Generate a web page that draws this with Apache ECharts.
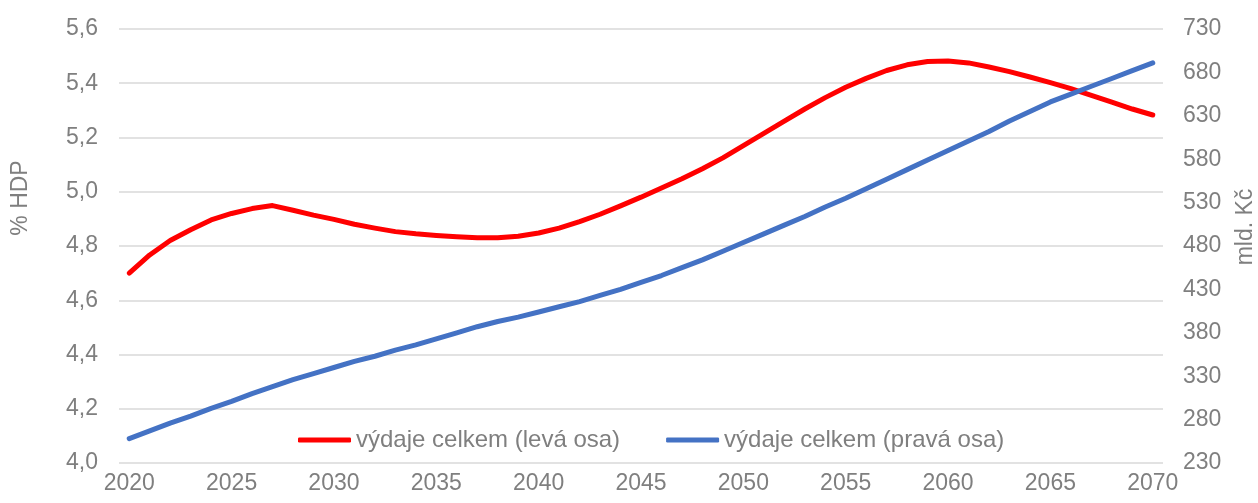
<!DOCTYPE html>
<html>
<head>
<meta charset="utf-8">
<script src="https://cdn.jsdelivr.net/npm/echarts@6/dist/echarts.min.js"></script>
<style>
html,body{margin:0;padding:0;background:#fff;}
#chart{width:1258px;height:503px;}
</style>
</head>
<body>
<div id="chart"></div>
<script>
const years = [];
for (let y = 2020; y <= 2070; y++) years.push(String(y));

const seriesNames = ['výdaje celkem (levá osa)', 'výdaje celkem (pravá osa)'];

// % HDP (left axis)
const leftValues = [
  4.70, 4.767, 4.82, 4.86, 4.896, 4.92, 4.938, 4.949, 4.932, 4.914,
  4.898, 4.88, 4.866, 4.853, 4.845, 4.839, 4.834, 4.830, 4.830, 4.836,
  4.848, 4.866, 4.89, 4.917, 4.948, 4.98, 5.014, 5.048, 5.085, 5.125,
  5.17, 5.215, 5.26, 5.305, 5.347, 5.385, 5.418, 5.447, 5.468, 5.48,
  5.482, 5.475, 5.46, 5.443, 5.423, 5.402, 5.38, 5.355, 5.33, 5.305, 5.283
];

// mld. Kč (right axis)
const rightValues = [
  258, 267, 276, 284, 293, 301, 310, 318, 326, 333,
  340, 347, 353, 360, 366, 373, 380, 387, 393, 398,
  404, 410, 416, 423, 430, 438, 446, 455, 464, 474,
  484, 494, 504, 514, 525, 535, 546, 557, 568, 579,
  590, 601, 612, 624, 635, 646, 655, 664, 673, 682, 691
];

const leftAxisName = '% HDP';
const rightAxisName = 'mld. Kč';

const FONT = 'Liberation Sans, Arial, sans-serif';
const TXT = '#7f7f7f';
const GRID = '#d9d9d9';

const chart = echarts.init(document.getElementById('chart'), null, {renderer: 'canvas'});
chart.setOption({
  animation: false,
  backgroundColor: '#fff',
  textStyle: {fontFamily: FONT},
  grid: {left: 119, right: 95, top: 29, bottom: 40, containLabel: false},
  legend: {
    data: seriesNames,
    left: 293,
    top: 423,
    icon: 'roundRect',
    itemWidth: 53,
    itemHeight: 5,
    itemGap: 46,
    textStyle: {fontSize: 24, color: TXT, fontFamily: FONT}
  },
  xAxis: {
    type: 'category',
    data: years,
    boundaryGap: true,
    axisLine: {show: false},
    axisTick: {show: false},
    axisLabel: {interval: 4, fontSize: 23, color: TXT, fontFamily: FONT, margin: 9},
    splitLine: {show: false}
  },
  yAxis: [
    {
      type: 'value',
      min: 4.0, max: 5.6, interval: 0.2,
      axisLine: {show: false},
      axisTick: {show: false},
      axisLabel: {fontSize: 23, color: TXT, fontFamily: FONT, margin: 21,
        formatter: v => v.toFixed(1).replace('.', ',')},
      splitLine: {show: true, lineStyle: {color: GRID, width: 1.5}}
    },
    {
      type: 'value',
      min: 230, max: 730, interval: 50,
      alignTicks: true,
      axisLine: {show: false},
      axisTick: {show: false},
      axisLabel: {fontSize: 23, color: TXT, fontFamily: FONT, margin: 20},
      splitLine: {show: false}
    }
  ],
  graphic: [
    {type: 'text', id: 'ln', x: 21, y: 198, rotation: Math.PI / 2,
      style: {text: leftAxisName, fill: TXT, font: '23px ' + FONT, align: 'center', verticalAlign: 'middle'}},
    {type: 'text', id: 'rn', x: 1246, y: 227, rotation: Math.PI / 2,
      style: {text: rightAxisName, fill: TXT, font: '23px ' + FONT, align: 'center', verticalAlign: 'middle'}}
  ],
  series: [
    {
      name: seriesNames[0], type: 'line', yAxisIndex: 0, data: leftValues,
      symbol: 'none', smooth: false,
      lineStyle: {color: '#ff0000', width: 5, cap: 'round', join: 'round'},
      itemStyle: {color: '#ff0000'}
    },
    {
      name: seriesNames[1], type: 'line', yAxisIndex: 1, data: rightValues,
      symbol: 'none', smooth: false,
      lineStyle: {color: '#4472c4', width: 5, cap: 'round', join: 'round'},
      itemStyle: {color: '#4472c4'}
    }
  ]
});
</script>
</body>
</html>
